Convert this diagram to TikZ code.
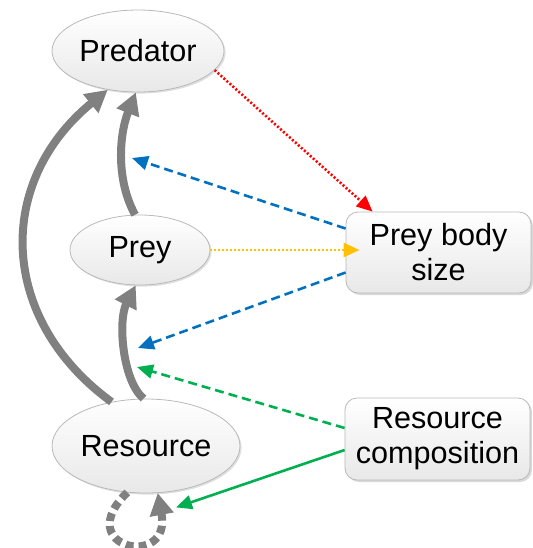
\documentclass[tikz,border=0pt]{standalone}
\usepackage{fontspec}
\setmainfont{Liberation Sans}
\usetikzlibrary{arrows.meta}
\usetikzlibrary{shapes.geometric}
\usetikzlibrary{shadows}
\tikzset{>={Triangle[length=8pt,width=7pt]}}
\definecolor{cred}{RGB}{255,0,0}
\definecolor{cblue}{RGB}{0,112,192}
\definecolor{cyellow}{RGB}{255,192,0}
\definecolor{cgreen}{RGB}{0,176,80}
\definecolor{cgray}{RGB}{128,128,128}
\tikzset{
  blob/.style={ellipse, draw=gray!55, top color=white, bottom color=gray!18, inner sep=0pt,
    drop shadow={opacity=0.25, shadow xshift=0.8pt, shadow yshift=-0.8pt}},
  box/.style={rectangle, rounded corners=6pt, draw=gray!55, top color=white, bottom color=gray!18,
    align=center, minimum width=92.5pt, minimum height=40.5pt, inner sep=0pt,
    drop shadow={opacity=0.3, shadow xshift=1pt, shadow yshift=-1pt}},
  link/.style={draw=cgray, line width=4pt, -{Triangle[length=11pt,width=11.5pt]}},
  col/.style={line width=1.3pt, ->}
}

\begin{document}
\begin{tikzpicture}[x=0.5pt, y=-0.5pt, font=\fontsize{15.3}{17.5}\selectfont]
  \useasboundingbox (0,0) rectangle (533,548);
  \node[blob, minimum width=86pt, minimum height=41pt] (pred) at (138,51) {Predator};
  \node[blob, minimum width=70pt, minimum height=35pt] (prey) at (140,250) {Prey};
  \node[blob, minimum width=94pt, minimum height=47pt] (res) at (146,446) {Resource};
  \node[box] (size) at (438.5,252.5) {Prey body\\size};
  \node[box, minimum height=41pt] (comp) at (437.5,439) {Resource\\composition};
  % points on the gray links
  \coordinate (up) at (132,158);
  \coordinate (mid) at (138,348);
  \coordinate (low) at (137,367);
  % trophic links
  \draw[link] (res.128) .. controls (-2,319) and (-5,182) .. (pred.-128);
  \draw[link] (prey.98) .. controls (116,180) and (119,135) .. (pred.-93);
  \draw[link] (res.93) .. controls (122,380) and (118,320) .. (prey.-97);
  \draw[link, dash pattern=on 4pt off 2.5pt] (res.-112) .. controls (70,548) and (172,570) .. (res.-76);
  % effects of body size and composition
  \draw[col, cred, dash pattern=on 1pt off 1pt] (pred.-14) -- ([xshift=13.5pt]size.north west);
  \draw[col, cblue, dash pattern=on 4.5pt off 2.5pt] ([yshift=12pt]size.west) -- (up);
  \draw[col, cyellow, dash pattern=on 1pt off 1pt] (prey.east) -- ([xshift=7pt]prey.east -| size.west);
  \draw[col, cblue, dash pattern=on 4.5pt off 2.5pt] ([yshift=-10pt]size.west) -- (mid);
  \draw[col, cgreen, dash pattern=on 4.5pt off 2.5pt] ([yshift=5.5pt]comp.west) -- (low);
  \draw[col, cgreen] ([yshift=-5.5pt]comp.west) -- ([xshift=15pt,yshift=-7pt]res.south);
\end{tikzpicture}
\end{document}
